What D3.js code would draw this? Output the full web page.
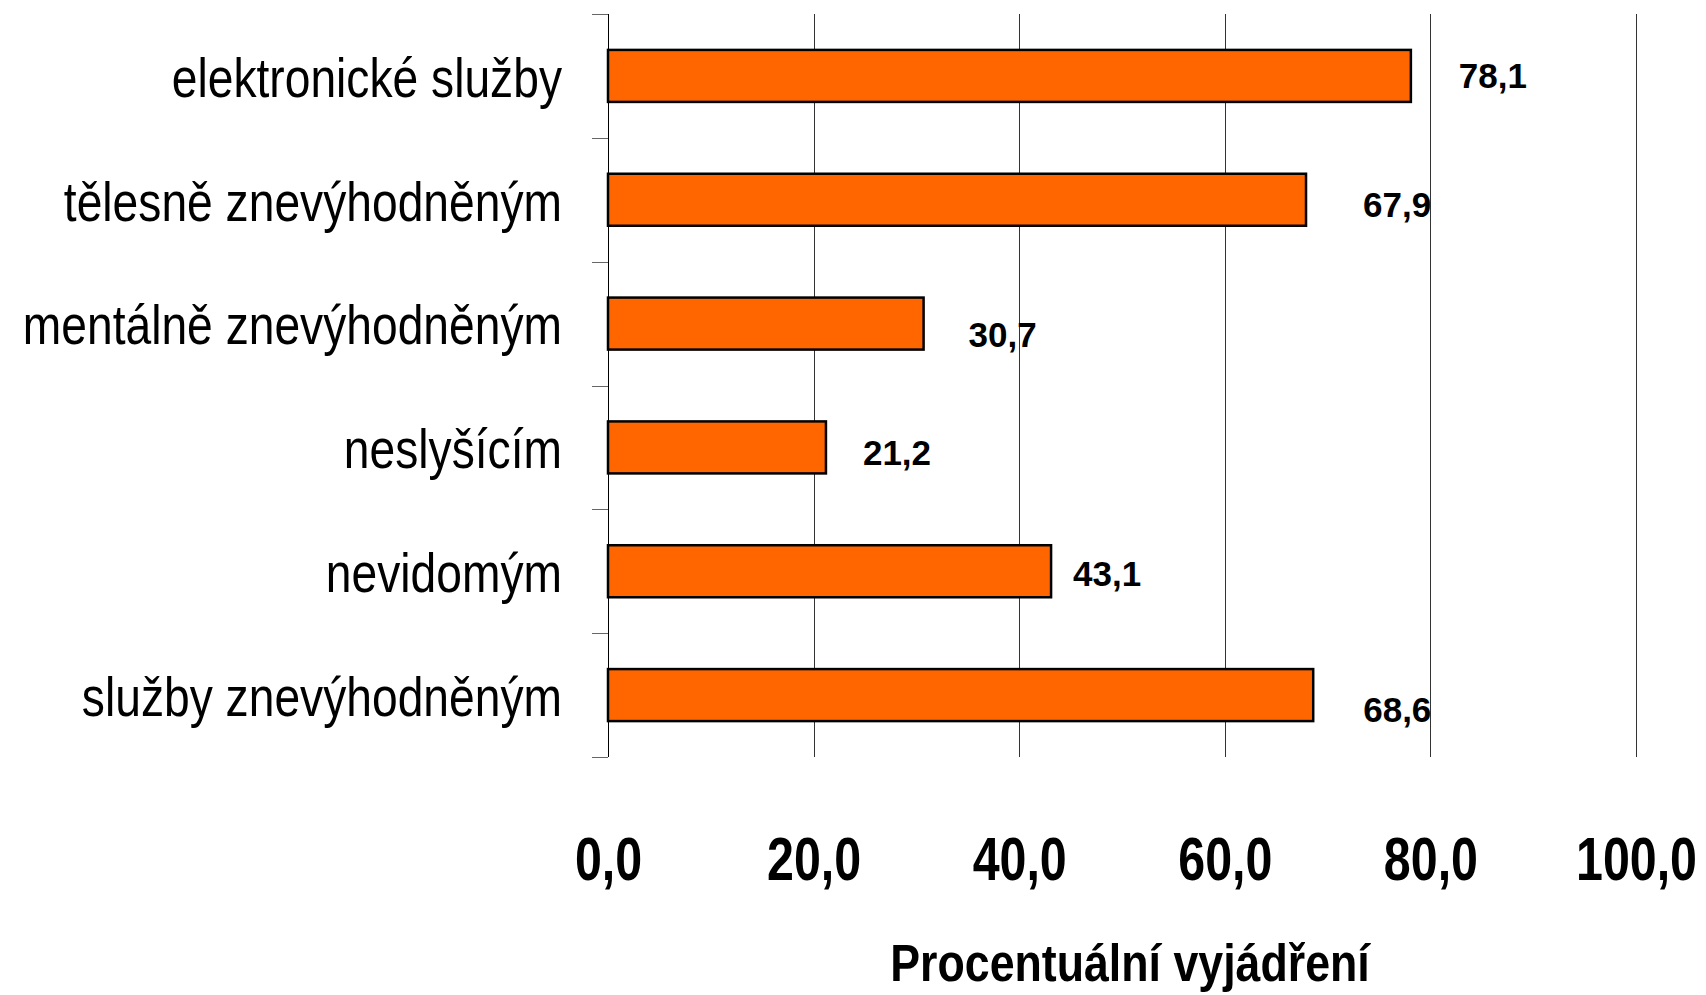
<!DOCTYPE html>
<html>
<head>
<meta charset="utf-8">
<script src="https://cdn.jsdelivr.net/npm/d3@7"></script>
<style>
  body { margin: 0; background: #fff; }
  svg { display: block; }
  .cat text { font-family: 'Liberation Sans', Arial, sans-serif; font-size: 55px; fill: #000; }
  .xax text { font-family: 'Liberation Sans', Arial, sans-serif; font-size: 62px; font-weight: bold; fill: #000; }
  .val { font-family: 'Liberation Sans', Arial, sans-serif; font-size: 35px; font-weight: bold; fill: #000; }
  .title { font-family: 'Liberation Sans', Arial, sans-serif; font-size: 52px; font-weight: bold; fill: #000; }
</style>
</head>
<body>
<div id="chart"></div>
<script>
var categories = [
    "elektronické služby",
    "tělesně znevýhodněným",
    "mentálně znevýhodněným",
    "neslyšícím",
    "nevidomým",
    "služby znevýhodněným"
];
var values = [78.1, 67.9, 30.7, 21.2, 43.1, 68.6];
var xTicks = [0, 20, 40, 60, 80, 100];

// hand placed value labels, offset from bar end / bar centre
var labelDx = [48, 57, 45, 37, 22, 50];
var labelDy = [12, 17, 23, 18, 15, 27];

var width = 1706, height = 995;
var plotLeft = 608, plotRight = 1636, plotTop = 14, plotBottom = 757;
var narrow = 0.84; // no Arial Narrow here, so squeeze Liberation Sans
var catPad = 46;

var svg = d3.select('#chart').append('svg')
    .attr('width', width)
    .attr('height', height);

var x = d3.scaleLinear().domain([0, 100]).range([plotLeft, plotRight]);
var y = d3.scaleBand().domain(categories).range([plotTop, plotBottom])
    .paddingInner(0.58).paddingOuter(0.29);
var yEdge = d3.scaleBand().domain(categories).range([plotTop, plotBottom]);

var fmt = function(d) { return d3.format('.1f')(d).replace('.', ','); };

// vertical grid lines
svg.append('g')
    .selectAll('line')
    .data(xTicks.slice(1))
    .enter().append('line')
    .attr('x1', function(d) { return Math.round(x(d)) + 0.5; })
    .attr('x2', function(d) { return Math.round(x(d)) + 0.5; })
    .attr('y1', plotTop)
    .attr('y2', plotBottom)
    .attr('stroke', '#333')
    .attr('stroke-width', 1);

// tick marks between categories
var edges = categories.map(function(c) { return yEdge(c); }).concat([plotBottom]);
svg.append('g')
    .selectAll('line')
    .data(edges)
    .enter().append('line')
    .attr('x1', plotLeft - 16)
    .attr('x2', plotLeft)
    .attr('y1', function(d) { return Math.round(d) + 0.5; })
    .attr('y2', function(d) { return Math.round(d) + 0.5; })
    .attr('stroke', '#666')
    .attr('stroke-width', 1);

// bars
svg.append('g')
    .selectAll('rect')
    .data(values)
    .enter().append('rect')
    .attr('x', plotLeft)
    .attr('y', function(d, i) { return y(categories[i]); })
    .attr('width', function(d) { return x(d) - plotLeft; })
    .attr('height', y.bandwidth())
    .attr('fill', '#FF6600')
    .attr('stroke', '#000')
    .attr('stroke-width', 2.5);

// y axis line
svg.append('line')
    .attr('x1', plotLeft + 0.5).attr('x2', plotLeft + 0.5)
    .attr('y1', plotTop).attr('y2', plotBottom)
    .attr('stroke', '#000')
    .attr('stroke-width', 1);

// category labels
var yAxis = svg.append('g')
    .attr('class', 'cat')
    .attr('transform', 'translate(' + plotLeft + ',0)')
    .call(d3.axisLeft(y).tickSize(0).tickPadding(catPad));
yAxis.select('.domain').remove();
yAxis.selectAll('text')
    .attr('x', -catPad / narrow)
    .attr('dy', '0.38em')
    .attr('transform', 'scale(' + narrow + ',1)');

// x axis labels
var xAxis = svg.append('g')
    .attr('class', 'xax')
    .attr('transform', 'translate(0,' + plotBottom + ')')
    .call(d3.axisBottom(x).tickValues(xTicks).tickFormat(fmt).tickSize(0));
xAxis.select('.domain').remove();
xAxis.selectAll('text')
    .attr('y', 123).attr('dy', 0)
    .attr('transform', 'scale(0.78,1)');

// value labels
svg.append('g')
    .selectAll('text')
    .data(values)
    .enter().append('text')
    .attr('class', 'val')
    .attr('x', function(d, i) { return x(d) + labelDx[i]; })
    .attr('y', function(d, i) { return y(categories[i]) + y.bandwidth() / 2 + labelDy[i]; })
    .text(fmt);

// axis title
svg.append('g')
    .attr('transform', 'translate(' + ((plotLeft + plotRight) / 2 + 8) + ',981) scale(0.86,1)')
    .append('text')
    .attr('class', 'title')
    .attr('text-anchor', 'middle')
    .text('Procentuální vyjádření');
</script>
</body>
</html>
